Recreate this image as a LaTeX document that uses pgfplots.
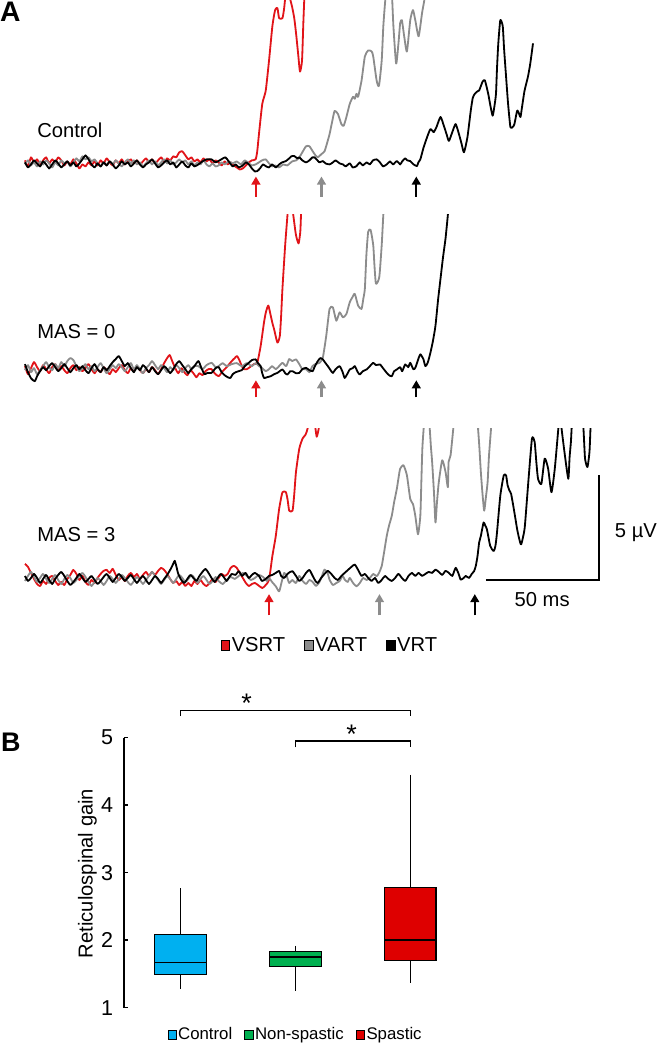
\documentclass[border=0pt]{standalone}
\usepackage{fontspec}
\setmainfont{Liberation Sans}
\usepackage{pgfplots}
\pgfplotsset{compat=1.18}
\usepgfplotslibrary{statistics}
\usetikzlibrary{arrows.meta}
\definecolor{tred}{RGB}{225,20,25}
\definecolor{tgray}{RGB}{140,140,140}
\definecolor{cblue}{RGB}{0,176,240}
\definecolor{cgreen}{RGB}{0,176,80}
\definecolor{cred}{RGB}{222,0,0}
\pgfplotsset{
  panelA/.style={hide axis, scale only axis, width=492pt, xmin=0, xmax=656, y dir=reverse, clip mode=individual},
  trace/.style={line width=1.35pt, line join=round, no markers, smooth, tension=0.35},
}
\tikzset{onset/.style={-{Triangle[width=6.5pt,length=6pt]}, line width=1.7pt}}
\begin{document}
\begin{tikzpicture}
% ---------- global annotation frame (pixel coordinates) ----------
\begin{axis}[hide axis, scale only axis, width=492pt, height=784.5pt, xmin=0, xmax=656, ymin=0, ymax=1046, y dir=reverse, clip=false, at={(0pt,0pt)}, anchor=north west]
\node[anchor=base west, inner sep=0, font=\fontsize{21}{24}\selectfont\bfseries] at (axis cs:3,28) {A};
\node[anchor=base west, inner sep=0, font=\fontsize{20}{24}\selectfont\bfseries] at (axis cs:4,752) {B};
\node[anchor=base west, inner sep=0, font=\fontsize{15}{18}\selectfont] at (axis cs:40,143.5) {Control};
\node[anchor=base west, inner sep=0, font=\fontsize{15}{18}\selectfont] at (axis cs:40,342.5) {MAS = 0};
\node[anchor=base west, inner sep=0, font=\fontsize{15}{18}\selectfont] at (axis cs:40,544) {MAS = 3};
\node[anchor=base west, inner sep=0, font=\fontsize{15}{18}\selectfont] at (axis cs:612.7,540) {5 µV};
\node[anchor=base, inner sep=0, font=\fontsize{15}{18}\selectfont] at (axis cs:540.8,608.3) {50 ms};
\draw[line width=1.2pt] (axis cs:485,582) -- (axis cs:597,582) -- (axis cs:597,478);
% onset arrows
\draw[onset, tred] (axis cs:257,202) -- (axis cs:257,182);
\draw[onset, tgray] (axis cs:322,202) -- (axis cs:322,182);
\draw[onset, black] (axis cs:416,202) -- (axis cs:416,182);
\draw[onset, tred] (axis cs:257,401) -- (axis cs:257,384);
\draw[onset, tgray] (axis cs:322,401) -- (axis cs:322,384);
\draw[onset, black] (axis cs:416,401) -- (axis cs:416,384);
\draw[onset, tred] (axis cs:270,617) -- (axis cs:270,596);
\draw[onset, tgray] (axis cs:379.5,617) -- (axis cs:379.5,596);
\draw[onset, black] (axis cs:474,617) -- (axis cs:474,596);
\end{axis}

% ---------- Control ----------
\begin{axis}[panelA, ymin=7, ymax=205, height=148.5pt, at={(0pt,-5.25pt)}, anchor=north west]
\addplot[trace, tred] coordinates {(28,166) (31,172) (34,163) (37,168) (40,165) (43,170) (46,166) (49,163) (52,169) (55,165) (58,168) (61,163) (64,166) (67,171) (70,167) (73,170) (76,165) (79,169) (82,174) (85,170) (88,172) (91,168) (94,171) (97,167) (100,171) (103,166) (106,169) (109,164) (112,168) (115,171) (118,166) (121,169) (124,165) (127,170) (130,167) (133,165) (136,169) (139,166) (142,170) (145,167) (148,164) (151,168) (154,165) (157,169) (160,166) (163,163) (166,167) (169,164) (172,166) (175,162) (178,163) (181,158) (184,157) (187,161) (190,165) (193,163) (196,167) (199,165) (202,168) (205,164) (208,167) (211,165) (214,169) (217,166) (220,168) (223,171) (226,167) (229,170) (232,168) (235,171) (238,173) (241,175) (244,174) (247,171) (250,168) (253,166) (256.7,165) (258.3,157) (260,140) (263.3,110) (266.7,97) (270,67) (273.3,33) (276,17) (278.3,15) (280,25) (283.3,25) (285,15) (286,5) (287.5,-10) (289,-10) (290,2) (292.7,13) (295,25) (297,42) (299,62) (300.7,78) (302.7,67) (304,30) (305,5) (306,-10)};
\addplot[trace, tgray] coordinates {(28,170) (31,166) (34,171) (37,168) (40,172) (43,167) (46,170) (49,166) (52,169) (55,173) (58,168) (61,171) (64,166) (67,169) (70,167) (73,172) (76,168) (79,164) (82,167) (85,162) (88,165) (91,163) (94,167) (97,165) (100,169) (103,172) (106,168) (109,171) (112,167) (115,170) (118,166) (121,169) (124,172) (127,168) (130,165) (133,169) (136,166) (139,170) (142,168) (145,172) (148,169) (151,166) (154,170) (157,167) (160,171) (163,168) (166,165) (169,169) (172,166) (175,170) (178,168) (181,165) (184,168) (187,166) (190,170) (193,167) (196,171) (199,168) (202,170) (205,166) (208,170) (211,172) (214,169) (217,172) (220,171) (223,168) (226,170) (230,167) (234,169) (238,167) (242,170) (246,166) (250,169) (253,171) (256.7,170) (260,168) (263,166) (266.7,165) (270,169) (273,172) (276,171) (280,173) (284,170) (288,171) (293,167) (297,166) (300,163) (303,158) (306.7,152) (310,152) (313.3,157) (316,161) (318.3,163) (321.7,160) (325,157) (327.5,149) (330,140) (332.5,128) (335,117) (338.3,120) (341.7,130) (344,131.7) (346.7,123) (350,110) (353.3,103) (355,105) (356.7,100) (358.3,103) (361.7,87) (365,63) (368.3,57) (371.7,58) (373.3,63) (376.7,87) (379,92) (381.7,67) (383.3,33) (385,10) (386.5,-5) (389,-15) (391.5,-5) (393.3,33) (396,70) (398.3,50) (400,30) (401.7,27) (404,43) (406.7,58) (410,27) (412.7,17) (415,27) (418.3,43) (421.7,20) (424,7) (425,0)};
\addplot[trace, black] coordinates {(28,168) (31,173) (34,170) (37,166) (40,169) (43,172) (46,167) (49,170) (52,174) (55,170) (58,166) (61,169) (64,173) (67,170) (70,167) (73,171) (76,168) (79,172) (82,169) (85,165) (88,161) (91,165) (94,170) (97,173) (100,169) (103,172) (106,168) (109,171) (112,167) (115,170) (118,174) (121,171) (124,167) (127,170) (130,168) (133,172) (136,169) (139,166) (142,170) (145,173) (148,170) (151,168) (154,165) (157,169) (160,173) (163,171) (166,168) (169,166) (172,170) (175,168) (178,173) (181,170) (184,167) (187,171) (190,173) (193,169) (196,172) (200,170) (204,167) (208,165) (213,165) (217,168) (221,166) (226.7,163) (230,167) (234,172) (237,170) (240,173) (244,171) (247,168) (250,170) (253,174) (256,177) (258.3,176.7) (261,174) (264,170) (266.7,171.7) (270,173) (273,170) (276.7,173) (280,170) (283,168) (286.7,166.7) (290,164) (292,162) (295,161.7) (298,164) (300,163) (303,166) (306.7,168) (310,166) (313,163) (315,163) (318,166) (320,168) (323.3,166.7) (326,169) (330,170) (333.3,168) (336,166) (340,169) (343.3,170) (346,172) (350,169) (353,173) (356.7,171.7) (360,168) (363,171) (366.7,168) (370,170) (373,166) (376.7,165) (380,168) (383,172) (386.7,170) (390,167) (393,170) (396.7,166.7) (400,170) (402,167) (405,164) (407,166) (410,166.7) (413.3,170) (416.7,171.7) (418,168) (420,165) (423,154) (426.7,143) (430,135) (433.3,138) (436,133) (440,123) (443.3,131.7) (446,140) (448.3,146.7) (451.7,138) (455,130) (458.3,140) (461,150) (463.3,158) (466.7,143) (470,116.7) (472,104) (474,100) (476,98) (478.3,96.7) (481.7,88) (484,86.7) (487.3,100) (489.5,112) (491.7,121.7) (493.5,112) (495,100) (496,75) (497.3,50) (499.3,27) (501.7,33) (503,55) (505,83) (507,110) (509.3,133) (511.5,133) (513.3,130) (516,116.7) (518,120) (519.3,123) (521,112) (523.3,97) (526.7,83) (529,70) (531.7,50)};
\end{axis}

% ---------- MAS = 0 ----------
\begin{axis}[panelA, ymin=220, ymax=410, height=142.5pt, at={(0pt,-165pt)}, anchor=north west]
\addplot[trace, tred] coordinates {(28,370) (31,378) (34,372) (37,366) (40,371) (43,375) (46,369) (49,373) (52,377) (55,371) (58,368) (61,373) (64,370) (67,374) (70,377) (73,372) (76,369) (79,374) (82,371) (85,375) (88,372) (91,368) (94,373) (97,377) (100,373) (103,376) (106,371) (109,374) (112,378) (115,373) (118,376) (121,372) (124,369) (127,374) (130,377) (133,372) (136,375) (139,370) (142,374) (145,377) (148,373) (151,376) (154,371) (157,374) (160,378) (163,373) (166,367) (169,362) (171.5,359) (174,365) (177,372) (180,377) (183,372) (186,376) (189,379) (192,374) (195,377) (198,381) (201,377) (204,379) (207,375) (210,373) (213,373) (216,377) (220,380) (224,375) (228,371) (233,365) (236,362) (238.3,360) (241,365) (243,370) (245,373) (248,373) (251,371) (255,368) (258.3,366.7) (261.7,350) (265,326.7) (267,316) (269.3,310) (271.7,320) (273.5,328) (275,333.3) (278.3,346.7) (280.7,340) (282,320) (283.3,293) (286,250) (288.3,220) (289.5,205) (292,205) (294,220) (296.7,240) (299.3,248.3) (301,236.7) (301.7,220) (302.5,205)};
\addplot[trace, tgray] coordinates {(28,374) (31,369) (34,376) (37,372) (40,378) (43,374) (46,370) (49,366) (52,371) (55,374) (58,368) (61,372) (64,366) (67,370) (70,365) (73,362) (76,364) (79,370) (82,375) (85,372) (88,368) (91,373) (94,370) (97,375) (100,371) (103,367) (106,372) (109,377) (112,373) (115,369) (118,372) (121,368) (124,371) (127,375) (130,371) (133,367) (136,373) (139,369) (142,373) (145,377) (148,372) (151,369) (154,365) (157,369) (160,373) (163,369) (166,372) (169,376) (172,371) (175,374) (178,369) (181,372) (184,376) (187,372) (190,369) (193,373) (196,370) (200,370) (204,373) (208,369) (213,366.7) (217,371) (220,370) (224,367) (228,370) (233,368) (238,367) (243,370) (248,367) (253,370) (256.7,367) (260,370) (263,371.7) (266.7,375) (270,373) (273,370) (276.7,373) (280,370) (283.3,366.7) (287,370) (290,363) (293,365) (296.7,363.3) (300,368) (303,373) (306.7,373) (310,376) (313,370) (316,368) (320,366.7) (323.3,361.7) (326.7,340) (330,313.3) (333.3,311.7) (336.7,325) (340,316.7) (343.3,321.7) (346.7,318.3) (350,306.7) (352.5,302) (355,298.3) (358.3,310) (361.7,313.3) (363.5,303) (365,293.3) (366.5,260) (368.3,236.7) (370.7,235) (373.3,250) (374.5,270) (376,288.3) (379.3,281.7) (381.7,250) (383.3,220) (384.5,205)};
\addplot[trace, black] coordinates {(28,368) (31,376) (34,382) (37.7,385) (40,380) (43,375) (46,371) (49,374) (52,370) (55,367) (58,371) (61,375) (64,372) (67,368) (70,372) (73,376) (76,372) (79,369) (82,373) (85,370) (88,374) (91,377) (94,372) (97,368) (100,373) (103,376) (106,371) (109,374) (112,370) (115,366) (118,363) (121,360) (124,365) (127,370) (130,367) (133,372) (136,376) (139,371) (142,374) (145,369) (148,372) (151,376) (154,371) (157,375) (160,378) (163,374) (166,370) (169,373) (172,377) (175,373) (178,368) (181,365) (184,369) (187,373) (190,377) (193,373) (196,370) (200,365) (203,372) (206,378) (209,376.7) (213,376.7) (217,372) (220,371) (223,376) (226,379) (229,381) (231.7,381.7) (234,378) (237,376) (240,375) (243,374) (246,370) (250,366.7) (253,364) (256.7,363.3) (259,367) (261.7,370) (263,376) (265,381.7) (268,381) (271.7,380) (275,378) (278.3,376.7) (283.3,373.3) (286,377) (288.3,378.3) (291,375) (293.3,375) (296.7,377) (300,376.7) (303,373) (306.7,371.7) (310,374) (313.3,375) (315,371) (318.3,365) (321,362) (323.3,363.3) (326,367) (328.3,370) (331,374) (333.3,376.7) (336,373) (340,370) (343,376) (345,381.7) (348,377) (350,373.3) (353,372) (355,370) (358,376) (360,378.3) (363,375) (366.7,373.3) (370,370) (373.3,366.7) (376,369) (380,368.3) (383,372) (386.7,376.7) (389,379) (391.7,380) (394,375) (396.7,373.3) (400,371) (402,375) (405,368.3) (408,371) (410,366.7) (413,373) (415,371.7) (418,363) (420,358.3) (423,363) (425,370) (427.3,366.7) (430,356.7) (432.5,345) (435,330) (437.5,305) (440,283.3) (442.5,262) (445,243.3) (447.3,220) (448.5,205)};
\end{axis}

% ---------- MAS = 3 ----------
\begin{axis}[panelA, ymin=432, ymax=620, height=141pt, at={(0pt,-324pt)}, anchor=north west,
  legend style={at={(0.503,-0.1436)}, anchor=center, legend columns=-1, draw=none, fill=none, font=\fontsize{15}{17}\selectfont, /tikz/every even column/.append style={column sep=13pt}, nodes={inner sep=1pt}},
  legend image code/.code={\draw[#1, line width=0.7pt] (0pt,-3.6pt) rectangle (6.6pt,3.6pt);}]
\addlegendimage{fill=tred, draw=black}
\addlegendentry{VSRT}
\addlegendimage{fill=tgray, draw=black}
\addlegendentry{VART}
\addlegendimage{fill=black, draw=black}
\addlegendentry{VRT}
\addplot[trace, tred, forget plot] coordinates {(28,566) (31,569) (34,575) (37,581) (40,586) (43,588) (46,583) (49,586) (52,580) (55,578) (58,583) (61,587) (64,584) (67,587) (70,581) (73,577) (76,572) (79,576) (82,582) (85,578) (88,584) (91,587) (94,582) (97,585) (100,580) (103,576) (106,573) (109,572) (112,575) (115,571) (118,577) (121,582) (124,579) (127,583) (130,578) (133,575) (136,579) (139,576) (142,581) (145,577) (148,574) (151,578) (154,574) (157,577) (160,573) (163,570) (166,572) (169,576) (172,581) (175,585) (178,583) (181,587) (184,584) (187,588) (190,585) (193,588) (196,583) (199,586) (202,582) (205,586) (208,588) (211,585) (214,581) (217,584) (220,580) (223,576) (226,578) (229,576) (232,570) (235,568) (238,570) (241,575) (244,580) (247,585) (250,588) (253,586) (256,585) (259,587) (263.3,590) (266.7,587) (270,581.7) (273.3,558.3) (276.7,538.3) (280,511.7) (283.3,495) (286.7,495) (288.5,503) (290,513.3) (293.3,513.3) (295,497) (296.7,475) (300,451.7) (303.3,441.7) (306,438.3) (307.3,435) (308.7,430) (310,420) (314,420) (316,431.7) (317.3,440) (319.3,431.7) (320.5,420)};
\addplot[trace, tgray, forget plot] coordinates {(28,583) (31,578) (34,574) (37,579) (40,584) (43,580) (46,576) (49,581) (52,585) (55,581) (58,577) (61,582) (64,586) (67,581) (70,577) (73,580) (76,585) (79,582) (82,578) (85,575) (88,579) (91,584) (94,588) (97,584) (100,580) (103,583) (106,587) (109,583) (112,578) (115,581) (118,585) (121,581) (124,577) (127,580) (130,584) (133,587) (136,583) (139,579) (142,582) (145,586) (148,582) (151,578) (154,574) (157,578) (160,582) (163,586) (166,582) (169,578) (172,581) (175,585) (178,581) (181,577) (184,580) (187,584) (190,581) (193,577) (196,580) (199,585) (202,581) (205,578) (208,582) (211,586) (214,583) (217,579) (220,583) (224,586) (228,582) (232,579) (236,581) (240,578) (244,575) (248,578) (252,582) (256,580) (260,577) (264,579) (268,583) (270,580) (273,584) (276.7,588.3) (280,593.3) (282.5,584) (285,575) (287.5,578) (290,585) (293,582) (296.7,585) (300,578) (303.3,583) (306.7,586) (310,582) (313.3,584) (316.7,588) (320,584) (322.5,578) (325,571.7) (328,575) (330,581.7) (333.3,587) (336.7,585) (340,583) (343,578) (345,581.7) (348,584) (350,580) (353.3,585) (356.7,588.3) (360,585) (363.3,580) (366.7,582) (370,580) (373.3,576) (376.7,578.3) (379,575) (381.7,568.3) (384,555) (386.7,538.3) (389,528) (391.7,518.3) (394,505) (396.7,491.7) (398.5,480) (400,471.7) (403.3,468.3) (406.7,478.3) (410,501.7) (412.7,506.7) (415,518.3) (417.7,536.7) (420,518.3) (421,485) (422,451.7) (423.3,431.7) (424.5,420) (428,420) (429.3,431.7) (430.5,450) (431.7,465) (433.5,495) (435,525) (436.5,505) (438.3,485) (441.7,463.3) (445,475) (447.3,490) (448,465) (450,458.3) (452.7,431.7) (454,420) (460,380) (476,420) (477.3,433) (478.5,450) (480,475) (481.5,495) (483.3,513.3) (485,500) (486.7,485) (488,460) (490,433) (491,420)};
\addplot[trace, black, forget plot] coordinates {(28,578) (31,583) (34,580) (37,576) (40,580) (43,585) (46,581) (49,577) (52,582) (55,586) (58,581) (61,577) (64,574) (67,578) (70,583) (73,587) (76,584) (79,580) (82,576) (85,580) (88,584) (91,581) (94,578) (97,582) (100,586) (103,583) (106,579) (109,576) (112,580) (115,584) (118,580) (121,576) (124,579) (127,583) (130,580) (133,577) (136,581) (139,585) (142,581) (145,578) (148,582) (151,586) (154,582) (157,578) (160,581) (163,585) (166,581) (169,577) (172,572) (175,566) (176.5,563) (178,568) (180,576) (183,582) (186,585) (189,581) (192,577) (195,580) (198,583) (201,578) (204,574) (207,571) (210,575) (213,580) (216,584) (219,580) (222,576) (225,579) (228,583) (230,580) (233,576) (236.7,577) (240,573.3) (243.3,578) (246.7,575) (250,580) (253,577) (256,575) (260,578) (263,583) (266.7,581) (270,578) (273.3,577) (276.7,575) (280,573) (282,578) (285,580) (288.3,576) (291,574) (293.3,573.3) (296.7,578) (300,583) (303.3,580) (306.7,575) (310,572) (313.3,578) (316,583) (318.3,585) (321.7,580) (325,576) (328.3,573) (331.7,576) (335,580) (338.3,582) (341.7,578) (345,575) (348.3,572) (351.7,569) (355,566.7) (358.3,572) (361.7,578) (365,576) (368.3,580) (371.7,583) (375,580) (378.3,585) (381.7,582) (385,578) (388.3,581) (391.7,583) (395,580) (398.3,576) (401.7,580) (405,583) (408.3,578) (411.7,575) (415,578) (418.3,575) (421.7,578) (425,576) (428.3,574) (431.7,575) (435,571.7) (438.3,574) (441.7,577) (445,573) (448.3,575) (451.7,578) (455,570) (458,576) (460,581.7) (463,580) (465,578) (468.3,580) (471,576) (473.3,573.3) (475,568) (476.7,558.3) (478.3,545) (480,538.3) (482.7,525) (484.3,528) (486,531.7) (489.3,548.3) (492.7,553.3) (494.5,548) (496,535) (499.3,498.3) (502.7,478.3) (505,478.3) (506.5,488) (508.3,493.3) (510,496.7) (512.7,511.7) (516,531.7) (518,541) (520,546.7) (523.3,531.7) (525.5,505) (527.3,481.7) (530.7,441.7) (533.3,445) (535,465) (536.7,481.7) (540,486.7) (543.3,461.7) (546.7,471.7) (550,495) (553.3,471.7) (556.7,433.3) (558,420) (559,420) (560,431.7) (563.3,458.3) (566.7,481.7) (568,460) (569.3,445) (570,431.7) (571,420) (580,420) (581.7,431.7) (583.3,461.7) (585.7,470) (587.7,455) (588.7,431.7) (589.5,420)};
\end{axis}

% ---------- Panel B ----------
\begin{axis}[at={(94.5pt,-754.5pt)}, anchor=south west, scale only axis,
  width=255.75pt, height=200.8pt, xmin=0.506, xmax=3.5, ymin=1, ymax=5,
  axis y line*=left, axis x line=none, clip=false,
  boxplot/draw direction=y,
  ytick={1,2,3,4,5}, tick align=inside, major tick length=3pt,
  axis line style={line width=1.1pt}, every tick/.style={line width=1.1pt, black},
  /pgf/number format/assume math mode=true,
  yticklabel style={font=\fontsize{16}{18}\selectfont, xshift=-4.5pt},
  ylabel={Reticulospinal gain},
  ylabel style={at={(rel axis cs:-0.1056,0.497)}, anchor=center, font=\fontsize{15}{18}\selectfont},
  legend style={at={(0.4985,-0.1009)}, anchor=center, legend columns=-1, draw=none, fill=none, font=\fontsize{12.5}{14}\selectfont, /tikz/every even column/.append style={column sep=8pt}, nodes={inner sep=1pt}},
  legend image code/.code={\draw[#1, line width=0.7pt] (0pt,-3.5pt) rectangle (6.2pt,3.5pt);}]
\addlegendimage{fill=cblue, draw=black}
\addlegendentry{Control}
\addlegendimage{fill=cgreen, draw=black}
\addlegendentry{Non-spastic}
\addlegendimage{fill=cred, draw=black}
\addlegendentry{Spastic}
\addplot[forget plot, draw=black, fill=cblue, line width=1.1pt, boxplot prepared={draw position=1, lower whisker=1.28, lower quartile=1.49, median=1.67, upper quartile=2.08, upper whisker=2.77, box extend=0.45, whisker extend=0}] coordinates {};
\addplot[forget plot, draw=black, fill=cgreen, line width=1.1pt, boxplot prepared={draw position=2, lower whisker=1.25, lower quartile=1.61, median=1.75, upper quartile=1.83, upper whisker=1.92, box extend=0.45, whisker extend=0}] coordinates {};
\addplot[forget plot, draw=black, fill=cred, line width=1.1pt, boxplot prepared={draw position=3, lower whisker=1.37, lower quartile=1.70, median=2.00, upper quartile=2.78, upper whisker=4.45, box extend=0.45, whisker extend=0}] coordinates {};
\draw[line width=1.1pt] (axis cs:1,5.318) -- (axis cs:1,5.40) -- (axis cs:3,5.40) -- (axis cs:3,5.318);
\draw[line width=1.1pt] (axis cs:2,4.855) -- (axis cs:2,4.949) -- (axis cs:3,4.949) -- (axis cs:3,4.855);
\node[inner sep=0, font=\fontsize{20}{22}\selectfont] at (axis cs:1.576,5.51) {*};
\node[inner sep=0, font=\fontsize{20}{22}\selectfont] at (axis cs:2.489,5.05) {*};
\end{axis}
\end{tikzpicture}
\end{document}
